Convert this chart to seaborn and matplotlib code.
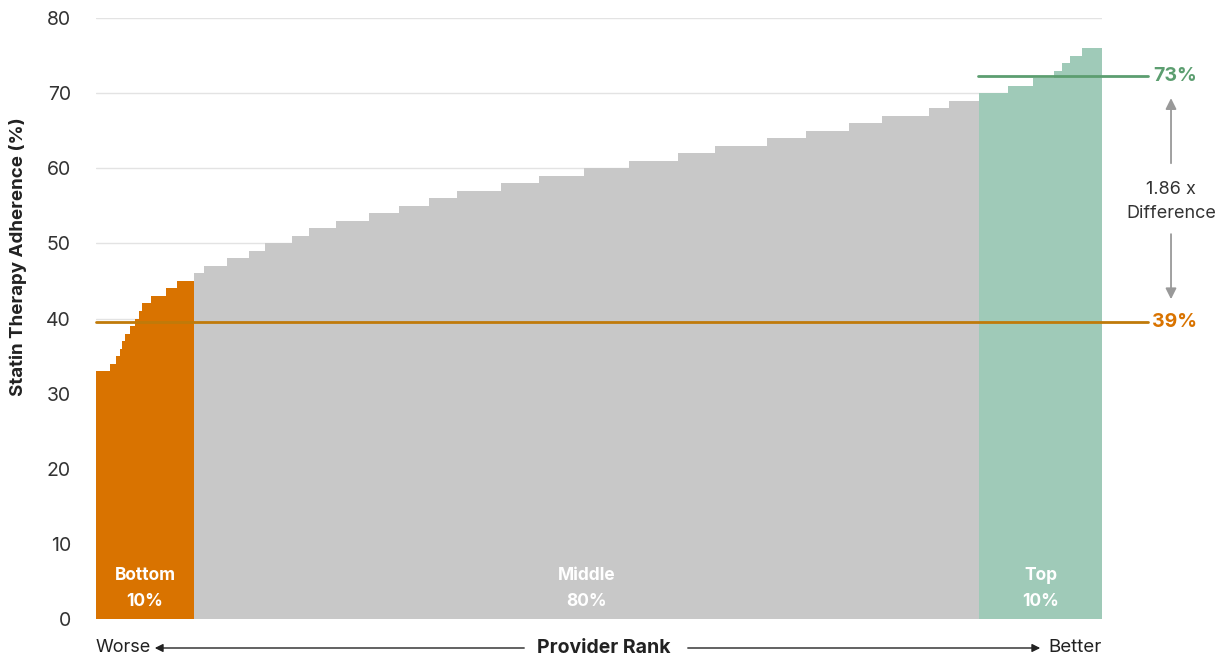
import numpy as np
import pandas as pd
import matplotlib.pyplot as plt
import seaborn as sns

# adherence level (%) and number of providers at that level, ranked worse -> better
bottom_levels = [33, 34, 35, 36, 37, 38, 39, 40, 41, 42, 43, 44, 45]
bottom_counts = [14, 6, 4, 2, 3, 5, 5, 4, 3, 9, 15, 11, 17]
middle_levels = [46, 47, 48, 49, 50, 51, 52, 53, 54, 55, 56, 57,
                 58, 59, 60, 61, 62, 63, 64, 65, 66, 67, 68, 69]
middle_counts = [10, 23, 22, 16, 27, 17, 27, 33, 30, 30, 28, 44,
                 38, 45, 45, 49, 37, 52, 39, 43, 33, 47, 20, 30]
top_levels = [70, 71, 72, 73, 74, 75, 76]
top_counts = [29, 25, 21, 8, 8, 12, 20]

group_names = ['Bottom\n10%', 'Middle\n80%', 'Top\n10%']
bottom_avg = 39.5
top_avg = 72.3
bottom_label = '39%'
top_label = '73%'
diff_label = '1.86 x\nDifference'

ORANGE = '#D97300'
GREY = '#C8C8C8'
GREEN = '#9FCAB8'
ORANGE_LINE = '#C07A0A'
GREEN_LINE = '#5C9E70'

sns.set_theme(style='whitegrid')
plt.rcParams['font.family'] = ['Inter', 'DejaVu Sans']

# build table: one row per adherence level
levels = bottom_levels + middle_levels + top_levels
counts = bottom_counts + middle_counts + top_counts
groups = (['bottom'] * len(bottom_levels) + ['middle'] * len(middle_levels)
          + ['top'] * len(top_levels))
df = pd.DataFrame({'level': levels, 'count': counts, 'group': groups})
df['end'] = df['count'].cumsum()
df['start'] = df['end'] - df['count']
df['mid'] = (df['start'] + df['end']) / 2
total = df['end'].iloc[-1]

fig = plt.figure(figsize=(12.25, 6.6), dpi=100)
ax = fig.add_axes([96 / 1225, 1 - 619 / 660, 1006 / 1225, 601 / 660])

colors = {'bottom': ORANGE, 'middle': GREY, 'top': GREEN}
for g, col in colors.items():
    sub = df[df['group'] == g]
    edges = list(sub['start']) + [sub['end'].iloc[-1]]
    sns.histplot(data=sub, x='mid', weights='level', bins=edges, stat='count',
                 color=col, alpha=1, linewidth=0, ax=ax)

ax.set_xlim(0, total)
ax.set_ylim(0, 80)
ax.set_yticks(range(0, 81, 10))
ax.set_xticks([])
ax.set_xlabel('')
ax.set_ylabel('')
ax.grid(axis='x', visible=False)
ax.grid(axis='y', color='#E3E3E3', linewidth=1)
ax.set_axisbelow(True)
for s in ax.spines.values():
    s.set_visible(False)
ax.tick_params(axis='y', length=0, pad=18, labelsize=14, labelcolor='#333333')

fig.text(18 / 1225, 1 - 257 / 660, 'Statin Therapy Adherence (%)', rotation=90,
         ha='center', va='center', fontsize=13.5, fontweight='bold', color='#222222')

# group labels inside bars
for g, name in zip(['bottom', 'middle', 'top'], group_names):
    sub = df[df['group'] == g]
    xc = (sub['start'].iloc[0] + sub['end'].iloc[-1]) / 2
    ax.text(xc, 4.0, name, ha='center', va='center', color='white',
            fontsize=12.5, fontweight='bold', linespacing=1.7)

# average lines
line_end = total * 1.046
top_start = df[df['group'] == 'top']['start'].iloc[0] - 1
ax.plot([0, line_end], [bottom_avg, bottom_avg], color=ORANGE_LINE, lw=2, clip_on=False)
ax.plot([top_start, line_end], [top_avg, top_avg], color=GREEN_LINE, lw=2, clip_on=False)
lab_x = total * 1.0725
ax.text(lab_x, top_avg, top_label, ha='center', va='center', color=GREEN_LINE,
        fontsize=14, fontweight='bold')
ax.text(lab_x, bottom_avg, bottom_label, ha='center', va='center', color=ORANGE,
        fontsize=14, fontweight='bold')

# difference annotation
arr_x = total * 1.0686
ax.text(arr_x, 55.6, diff_label, ha='center', va='center', color='#333333',
        fontsize=13, linespacing=1.5)
ax.annotate('', xy=(arr_x, 69.7), xytext=(arr_x, 60.3), annotation_clip=False,
            arrowprops=dict(arrowstyle='-|>', color='#999999', lw=1.3, mutation_scale=16))
ax.annotate('', xy=(arr_x, 42.2), xytext=(arr_x, 51.6), annotation_clip=False,
            arrowprops=dict(arrowstyle='-|>', color='#999999', lw=1.3, mutation_scale=16))

# provider rank axis
fig.text(96 / 1225, 12 / 660, 'Worse', ha='left', va='center', fontsize=13, color='#222222')
fig.text(1102 / 1225, 12 / 660, 'Better', ha='right', va='center', fontsize=13.5, color='#222222')
fig.text(604 / 1225, 12 / 660, 'Provider Rank', ha='center', va='center', fontsize=14,
         fontweight='bold', color='#222222')
ax.annotate('', xy=(152, 12), xytext=(527, 12), xycoords='figure pixels',
            textcoords='figure pixels',
            arrowprops=dict(arrowstyle='-|>', color='#222222', lw=1, mutation_scale=12))
ax.annotate('', xy=(1043, 12), xytext=(685, 12), xycoords='figure pixels',
            textcoords='figure pixels',
            arrowprops=dict(arrowstyle='-|>', color='#222222', lw=1, mutation_scale=12))

fig.savefig('out.png', dpi=100)
